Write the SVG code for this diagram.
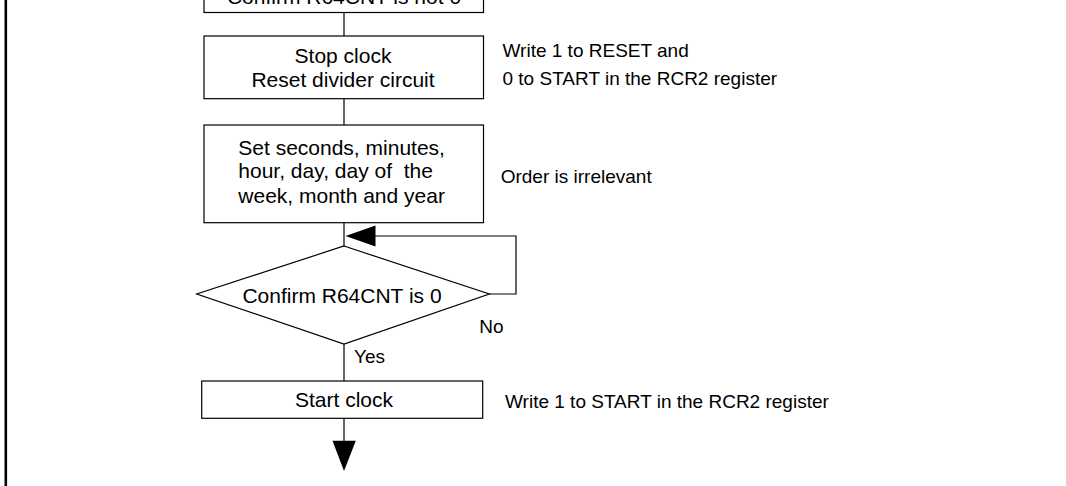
<svg xmlns="http://www.w3.org/2000/svg" width="1066" height="486" viewBox="0 0 1066 486">
<style>
.box{fill:#fff;stroke:#000;stroke-width:1.2}
.ln{fill:none;stroke:#000;stroke-width:1.2}
.bt{font-family:"Liberation Sans",Arial,sans-serif;font-size:21px;fill:#000}
.at{font-family:"Liberation Sans",Arial,sans-serif;font-size:19px;fill:#000}
.c{text-anchor:middle}
</style>
<rect x="0" y="0" width="1066" height="486" fill="#fff"/>
<line x1="5.8" y1="0" x2="5.8" y2="486" stroke="#000" stroke-width="2.6"/>
<g id="connectors">
<line class="ln" x1="344" y1="12.5" x2="344" y2="36"/>
<line class="ln" x1="344" y1="98.7" x2="344" y2="125"/>
<line class="ln" x1="344" y1="222.7" x2="344" y2="246"/>
<polyline class="ln" points="489.3,294 516,294 516,236 374,236"/>
<polygon points="345.5,236 375.5,225.5 375.5,246.5" fill="#000"/>
<line class="ln" x1="344" y1="344" x2="344" y2="381"/>
<line class="ln" x1="344" y1="418.3" x2="344" y2="442"/>
<polygon points="332.5,440.7 355.8,440.7 344,471" fill="#000"/>
</g>
<g id="n1">
<rect class="box" x="204" y="-30" width="279.5" height="42.5"/>
<text class="bt c" x="344" y="4">Confirm R64CNT is not 0</text>
</g>
<g id="n2">
<rect class="box" x="204" y="36" width="279.5" height="62.7"/>
<text class="bt c" x="343" y="63.3">Stop clock</text>
<text class="bt c" x="343" y="86.7">Reset divider circuit</text>
<text class="at" x="502.5" y="57.3">Write 1 to RESET and</text>
<text class="at" x="502.5" y="85">0 to START in the RCR2 register</text>
</g>
<g id="n3">
<rect class="box" x="204" y="125" width="279.5" height="97.7"/>
<text class="bt" x="238.3" y="155">Set seconds, minutes,</text>
<text class="bt" x="238.3" y="178.3" xml:space="preserve">hour, day, day of  the</text>
<text class="bt" x="238.3" y="203.3">week, month and year</text>
<text class="at" x="500.7" y="183.3">Order is irrelevant</text>
</g>
<g id="n4">
<polygon class="box" points="344,246 489.3,294 344,344 196.7,294"/>
<text class="bt c" x="342" y="303.3">Confirm R64CNT is 0</text>
<text class="at" x="479.3" y="332.7">No</text>
<text class="at" x="354" y="363.3">Yes</text>
</g>
<g id="n5">
<rect class="box" x="201.7" y="381" width="281" height="37.3"/>
<text class="bt c" x="344" y="407">Start clock</text>
<text class="at" x="505" y="408.3">Write 1 to START in the RCR2 register</text>
</g>
</svg>
